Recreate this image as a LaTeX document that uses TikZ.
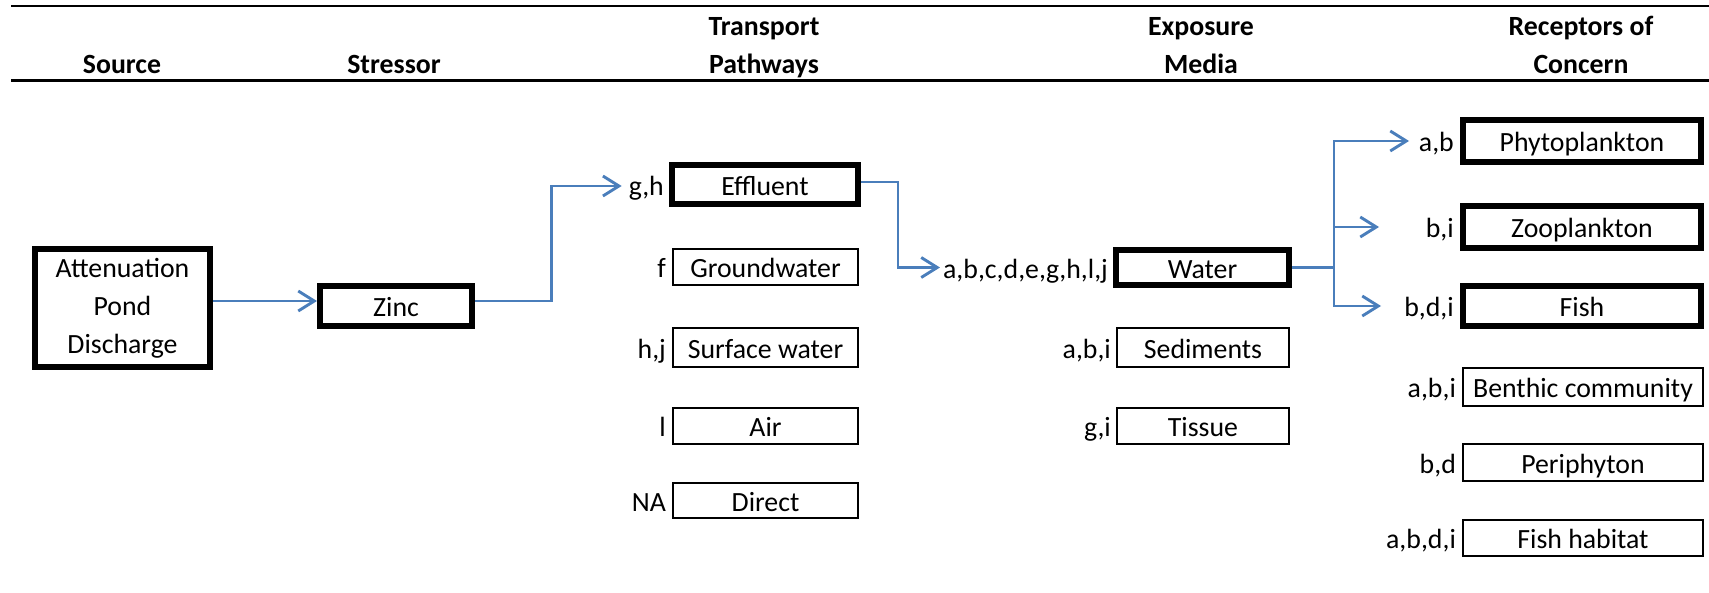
\documentclass[tikz,border=0pt]{standalone}
\usepackage{fontspec}
\setmainfont{Carlito}
\usetikzlibrary{arrows.meta,calc}
\definecolor{flowblue}{RGB}{74,126,187}
\tikzset{
  barb/.tip={Straight Barb[length=16pt,width=20pt]},
  hdr/.style={font=\fontsize{27.8}{38}\selectfont\bfseries, align=center,
    inner sep=0pt, text depth=0pt, anchor=south},
  box/.style={draw, inner sep=0pt, text height=24.5pt, text depth=3.5pt},
  heavybox/.style={box, line width=6pt},
  lightbox/.style={box, line width=1.9pt},
  lab/.style={inner sep=0pt, anchor=base east},
  flow/.style={draw=flowblue, line width=2.9pt, line join=miter},
  conn/.style={flow, -barb},
  rule/.style={line width=2.6pt},
}
\begin{document}
\begin{tikzpicture}[x=1pt, y=-1pt, font=\fontsize{27.8}{37}\selectfont]
  \useasboundingbox[fill=white] (0,0) rectangle (1709,592);

  % header rules
  \coordinate (ruleL1) at (11,6);
  \coordinate (ruleR1) at (1709,6);
  \coordinate (ruleL2) at (11,80.7);
  \coordinate (ruleR2) at (1709,80.7);
  \draw[rule] (ruleL1) -- (ruleR1);
  \draw[rule] (ruleL2) -- (ruleR2);

  % column headings
  \node[hdr] (hSource)   at (122,74)  {Source};
  \node[hdr] (hStressor) at (394,74)  {Stressor};
  \node[hdr] (hPath)     at (764,74)  {Transport\\Pathways};
  \node[hdr] (hMedia)    at (1201,74) {Exposure\\Media};
  \node[hdr] (hRecept)   at (1581,74) {Receptors of\\Concern};

  % source and stressor
  \node[draw, line width=6pt, inner sep=0pt, align=center,
        font=\fontsize{27.8}{38}\selectfont,
        minimum width=175pt, minimum height=118pt] (src) at (122.5,308)
        {Attenuation\\Pond\\Discharge};
  \node[heavybox, minimum width=152pt, minimum height=40pt] (zinc) at (396,306) {Zinc};

  % transport pathways
  \node[heavybox, minimum width=186pt, minimum height=39pt] (effl) at (765,184.5) {Effluent};
  \node[lightbox, minimum width=185pt, minimum height=36pt] (ground) at (765.5,267) {Groundwater};
  \node[lightbox, minimum width=185pt, minimum height=39pt] (surf) at (765.5,347.5) {Surface water};
  \node[lightbox, minimum width=185pt, minimum height=36pt] (air) at (765.5,426) {Air};
  \node[lightbox, minimum width=185pt, minimum height=35pt] (direct) at (765.5,500.5) {Direct};

  % exposure media
  \node[heavybox, minimum width=173pt, minimum height=35pt] (water) at (1202.5,267.5) {Water};
  \node[lightbox, minimum width=172pt, minimum height=39pt] (sed) at (1203,347.5) {Sediments};
  \node[lightbox, minimum width=172pt, minimum height=36pt] (tissue) at (1203,426) {Tissue};

  % receptors of concern
  \node[heavybox, minimum width=238pt, minimum height=42pt] (phyto) at (1582,141) {Phytoplankton};
  \node[heavybox, minimum width=238pt, minimum height=42pt] (zoo) at (1582,227) {Zooplankton};
  \node[heavybox, minimum width=238pt, minimum height=40pt] (fish) at (1582,306) {Fish};
  \node[lightbox, minimum width=240pt, minimum height=38pt] (benthic) at (1583,387) {Benthic community};
  \node[lightbox, minimum width=240pt, minimum height=37pt] (peri) at (1583,462.5) {Periphyton};
  \node[lightbox, minimum width=240pt, minimum height=36pt] (fhab) at (1583,538) {Fish habitat};

  % reference letters beside each box
  \node[lab] (l-effl)    at ($(effl.base west)+(-5,0)$)    {g,h};
  \node[lab] (l-ground)  at ($(ground.base west)+(-6,0)$)  {f};
  \node[lab] (l-surf)    at ($(surf.base west)+(-6,0)$)    {h,j};
  \node[lab] (l-air)     at ($(air.base west)+(-6,0)$)     {l};
  \node[lab] (l-direct)  at ($(direct.base west)+(-6,0)$)  {NA};
  \node[lab] (l-water)   at ($(water.base west)+(-5,0)$)   {a,b,c,d,e,g,h,l,j};
  \node[lab] (l-sed)     at ($(sed.base west)+(-5,0)$)     {a,b,i};
  \node[lab] (l-tissue)  at ($(tissue.base west)+(-5,0)$)  {g,i};
  \node[lab] (l-phyto)   at ($(phyto.base west)+(-6,0)$)   {a,b};
  \node[lab] (l-zoo)     at ($(zoo.base west)+(-6,0)$)     {b,i};
  \node[lab] (l-fish)    at ($(fish.base west)+(-6,0)$)    {b,d,i};
  \node[lab] (l-benthic) at ($(benthic.base west)+(-6,0)$) {a,b,i};
  \node[lab] (l-peri)    at ($(peri.base west)+(-6,0)$)    {b,d};
  \node[lab] (l-fhab)    at ($(fhab.base west)+(-6,0)$)    {a,b,d,i};

  % connectors
  \draw[conn] (src.east |- 0,301) -- (zinc.west |- 0,301);

  \coordinate (k1) at ($(zinc.east)!.5!(l-effl.west)$);
  \draw[conn] (zinc.east |- 0,301) -| (k1 |- 0,186) -- ($(l-effl.west |- 0,186)+(-7,0)$);

  \coordinate (k2) at (898,0);
  \draw[conn] ($(effl.east)+(0,-2.5)$) -| (k2 |- water.west)
              -- ($(l-water.west |- water.west)+(-3,0)$);

  \coordinate (fan) at (1334,0);
  \draw[flow] (water.east) -- (fan |- water.east);
  \draw[flow, barb-barb] ($(fan |- fish.west)+(47,0)$) -- (fan |- fish.west)
              -- (fan |- phyto.west) -- ++(75,0);
  \draw[conn] (fan |- zoo.west) -- ++(45,0);
\end{tikzpicture}
\end{document}
